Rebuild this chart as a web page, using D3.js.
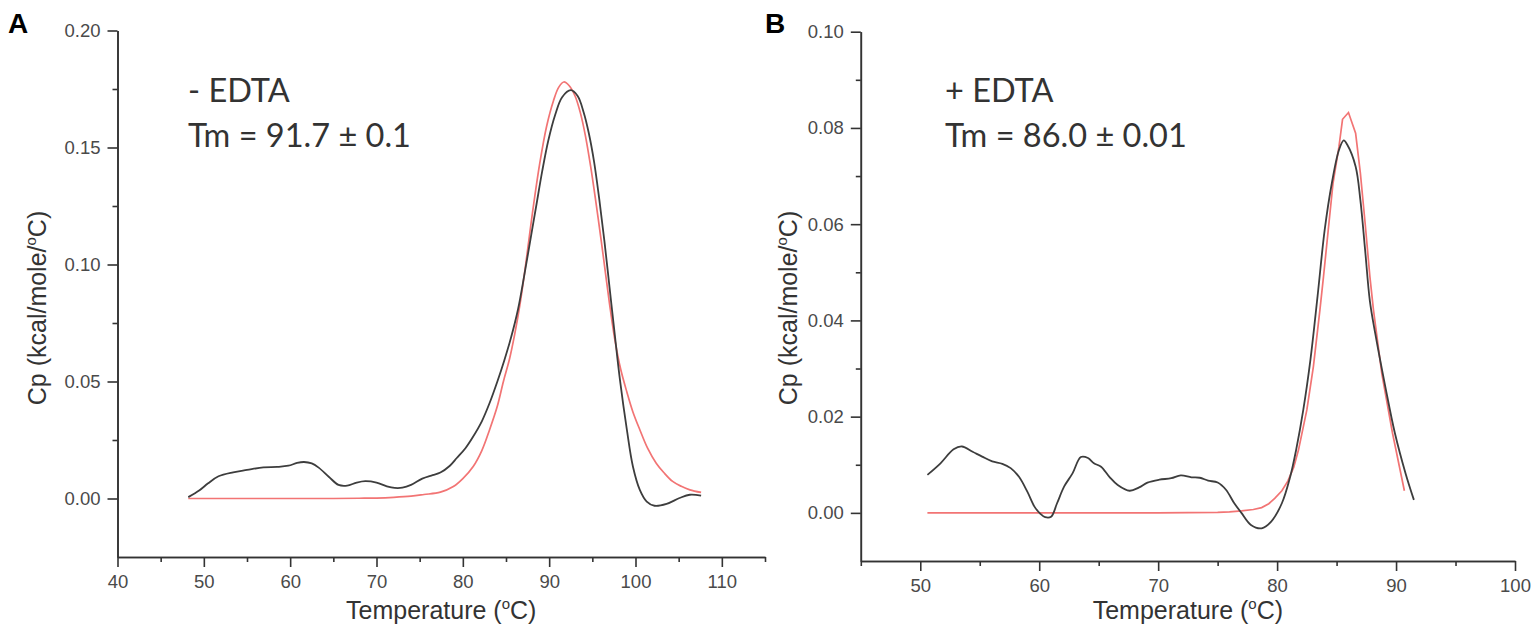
<!DOCTYPE html>
<html>
<head>
<meta charset="utf-8">
<script src="https://cdn.jsdelivr.net/npm/d3@7"></script>
<style>
  body { margin: 0; background: #fff; }
  .tick text { font-family: "Liberation Sans", Arial, sans-serif; font-size: 18.5px; fill: #4a4a4a; }
  .axis_text { font-family: "Liberation Sans", Arial, sans-serif; font-size: 25px; fill: #333; }
  .note_text { font-family: Lato, "Open Sans", sans-serif; font-size: 32.5px; fill: #333; }
  .panel_text { font-family: "Liberation Sans", Arial, sans-serif; font-size: 28px; font-weight: bold; fill: #000; }
</style>
</head>
<body>
<div class="d3_content"></div>
<script>
// panel A (- EDTA) data, temperature in C and Cp
var tempA_data = [48.2, 49.5, 50.5, 51.7, 53.4, 55.0, 56.9, 58.5, 59.8, 60.8, 61.6, 62.5, 63.3, 64.5, 65.6, 66.6, 67.7, 68.7, 70.0, 71.2,
  72.1, 73.0, 74.0, 75.3, 76.5, 77.4, 78.5, 79.3, 80.3, 81.2, 82.2, 83.1, 84.0, 84.8, 85.6, 86.4, 87.1, 87.8, 88.5, 89.2,
  89.9, 90.7, 91.5, 92.5, 93.3, 94.0, 94.6, 95.2, 95.8, 96.4, 97.0, 97.6, 98.2, 99.0, 99.7, 100.5, 101.3, 102.2, 103.6, 105.1,
  106.3, 107.6];
var cpA_data = [0.0006, 0.0035, 0.0065, 0.0095, 0.0112, 0.0122, 0.0133, 0.0135, 0.0140, 0.0152, 0.0156, 0.0150, 0.0132, 0.0092, 0.0058, 0.0055, 0.0068, 0.0074, 0.0068, 0.0052,
  0.0045, 0.0046, 0.0058, 0.0085, 0.0100, 0.0111, 0.0140, 0.0173, 0.0215, 0.0265, 0.0330, 0.0408, 0.0500, 0.0590, 0.0690, 0.0810, 0.0950, 0.1100, 0.1250, 0.1400,
  0.1530, 0.1640, 0.1715, 0.1745, 0.1720, 0.1650, 0.1560, 0.1440, 0.1280, 0.1100, 0.0900, 0.0700, 0.0507, 0.0294, 0.0137, 0.0037, -0.0013, -0.0031, -0.0023, 0.0002,
  0.0016, 0.0012];
var tempA_fit = [48.2, 55, 60, 65, 68, 70, 72, 74, 75.5, 77.4, 78.9, 80.0, 81.2, 82.2, 83.1, 84.0, 84.7, 85.4, 86.0, 86.6,
  87.1, 87.6, 88.1, 88.9, 89.7, 90.5, 91.1, 91.7, 92.3, 93.0, 93.6, 94.2, 94.8, 95.4, 96.0, 96.5, 97.0, 97.6, 98.3, 99.0,
  99.7, 100.5, 101.4, 102.4, 103.3, 104.3, 105.3, 106.3, 107.6];
var cpA_fit = [0, 0, 0, 0, 0.0001, 0.0002, 0.0005, 0.0010, 0.0017, 0.0027, 0.0051, 0.0085, 0.0137, 0.0205, 0.0294, 0.0395, 0.0500, 0.0595, 0.0700, 0.0825,
  0.0950, 0.1090, 0.1230, 0.1430, 0.1590, 0.1700, 0.1757, 0.1780, 0.1765, 0.1720, 0.1650, 0.1550, 0.1420, 0.1270, 0.1110, 0.0970, 0.0830, 0.0680, 0.0550, 0.0455,
  0.0370, 0.0294, 0.0215, 0.0151, 0.0110, 0.0073, 0.0052, 0.0037, 0.0026];

// panel B (+ EDTA) data
var tempB_data = [50.6, 51.7, 52.8, 53.5, 54.4, 55.2, 56.05, 56.9, 57.6, 58.3, 59.0, 59.6, 60.1, 60.5, 61.0, 61.5, 62.1, 62.8, 63.5, 64.1,
  64.6, 65.2, 65.9, 66.6, 67.6, 68.4, 69.1, 70.1, 71.1, 71.9, 72.8, 73.5, 74.2, 75.0, 75.7, 76.4, 77.0, 77.8, 78.7, 79.5,
  80.4, 81.1, 81.6, 82.2, 82.8, 83.4, 84.0, 84.6, 85.2, 85.6, 85.9, 86.6, 87.0, 87.4, 87.8, 88.25, 89.1, 89.9, 90.8, 91.5];
var cpB_data = [0.0079, 0.0103, 0.0132, 0.0138, 0.0127, 0.0117, 0.0107, 0.0102, 0.0093, 0.0075, 0.0044, 0.0013, -0.0002, -0.0009, -0.0008, 0.0020, 0.0055, 0.0082, 0.0116, 0.0114,
  0.0103, 0.0096, 0.0075, 0.0058, 0.0046, 0.0053, 0.0063, 0.0069, 0.0072, 0.0078, 0.0074, 0.0073, 0.0067, 0.0063, 0.0048, 0.0020, 0.0000, -0.0025, -0.0032, -0.0018,
  0.0020, 0.0075, 0.0131, 0.0214, 0.0318, 0.0450, 0.0588, 0.0685, 0.0754, 0.0774, 0.0765, 0.0720, 0.0650, 0.0546, 0.0440, 0.0373, 0.0262, 0.0166, 0.0082, 0.0027];
var tempB_fit = [50.6, 60, 70, 75, 76.0, 77.0, 78.0, 78.7, 79.3, 79.8, 80.4, 80.9, 81.4, 81.8, 82.5, 83.05, 83.6, 83.9, 84.3, 84.7,
  85.2, 85.5, 86.0, 86.6, 87.0, 87.4, 87.8, 88.1, 88.8, 89.7, 90.7];
var cpB_fit = [0, 0, 0, 0.0001, 0.0002, 0.0004, 0.0007, 0.0011, 0.0019, 0.0030, 0.0046, 0.0066, 0.0095, 0.0131, 0.0214, 0.0304, 0.0422, 0.0491, 0.0588, 0.0685,
  0.0761, 0.0818, 0.0832, 0.0789, 0.0706, 0.0602, 0.0491, 0.0422, 0.0290, 0.0166, 0.0046];

// ticks
var xTicksA = [40, 50, 60, 70, 80, 90, 100, 110];
var xMinorA = [45, 55, 65, 75, 85, 95, 105, 115];
var yTicksA = [0, 0.05, 0.10, 0.15, 0.20];
var yMinorA = [0.025, 0.075, 0.125, 0.175];
var xTicksB = [50, 60, 70, 80, 90, 100];
var xMinorB = [45, 55, 65, 75, 85, 95];
var yTicksB = [0, 0.02, 0.04, 0.06, 0.08, 0.10];
var yMinorB = [0.01, 0.03, 0.05, 0.07, 0.09];

var svg = d3.select(".d3_content").append("svg")
  .attr("width", 1535)
  .attr("height", 637);

function zip(xs, ys) {
  return xs.map((x, i) => ({x: x, y: ys[i]}));
}

function drawPanel(p) {
  var x = d3.scaleLinear().domain(p.xdomain).range(p.xrange);
  var y = d3.scaleLinear().domain(p.ydomain).range(p.yrange);
  var g = svg.append("g");

  // minor ticks first, major axis on top
  g.append("g")
    .attr("transform", `translate(0, ${p.yrange[0]})`)
    .call(d3.axisBottom(x).tickValues(p.xminor).tickSize(5).tickSizeOuter(0).tickFormat(""));
  g.append("g")
    .attr("transform", `translate(${p.xrange[0]}, 0)`)
    .call(d3.axisLeft(y).tickValues(p.yminor).tickSize(5).tickSizeOuter(0).tickFormat(""));

  g.append("g")
    .attr("transform", `translate(0, ${p.yrange[0]})`)
    .call(d3.axisBottom(x).tickValues(p.xticks).tickSize(10).tickSizeOuter(0).tickPadding(8).tickFormat(d3.format("d")));
  g.append("g")
    .attr("transform", `translate(${p.xrange[0]}, 0)`)
    .call(d3.axisLeft(y).tickValues(p.yticks).tickSize(10).tickSizeOuter(0).tickPadding(7).tickFormat(d3.format(".2f")));

  g.selectAll(".domain, .tick line").attr("stroke", "#333").attr("stroke-width", 1.6);

  var line = d3.line().x(d => x(d.x)).y(d => y(d.y));

  g.append("path")
    .datum(zip(p.fitT, p.fitCp))
    .attr("fill", "none")
    .attr("stroke", "#f27474")
    .attr("stroke-width", 1.7)
    .attr("d", line.curve(p.fitCurve));

  g.append("path")
    .datum(zip(p.dataT, p.dataCp))
    .attr("fill", "none")
    .attr("stroke", "#3d3d3d")
    .attr("stroke-width", 1.8)
    .attr("d", line.curve(d3.curveCatmullRom));

  // x axis label
  var xl = g.append("text")
    .attr("x", (p.xrange[0] + p.xrange[1]) / 2)
    .attr("y", 619)
    .attr("text-anchor", "middle")
    .attr("class", "axis_text");
  xl.append("tspan").text("Temperature (");
  xl.append("tspan").text("o").style("font-size", "15px").attr("dy", -10);
  xl.append("tspan").text("C)").attr("dy", 10);

  // y axis label (rotated)
  var yl = g.append("text")
    .attr("x", -308)
    .attr("y", p.ylabelX)
    .attr("transform", "rotate(-90)")
    .attr("text-anchor", "middle")
    .attr("class", "axis_text");
  yl.append("tspan").text("Cp (kcal/mole/");
  yl.append("tspan").text("o").style("font-size", "15px").attr("dy", -10);
  yl.append("tspan").text("C)").attr("dy", 10);

  g.append("text").text(p.note1).attr("x", p.noteX).attr("y", 102).attr("class", "note_text");
  g.append("text").text(p.note2).attr("x", p.noteX).attr("y", 147).attr("class", "note_text");

  g.append("text").text(p.panel).attr("x", p.panelX).attr("y", 33).attr("class", "panel_text");
}

drawPanel({
  panel: "A", panelX: 8,
  xdomain: [40, 115], xrange: [117.5, 765],
  ydomain: [-0.025, 0.20], yrange: [557, 30.5],
  xticks: xTicksA, xminor: xMinorA, yticks: yTicksA, yminor: yMinorA,
  dataT: tempA_data, dataCp: cpA_data, fitT: tempA_fit, fitCp: cpA_fit,
  fitCurve: d3.curveCatmullRom,
  ylabelX: 46,
  note1: "- EDTA", note2: "Tm = 91.7 \u00B1 0.1", noteX: 188,
});

drawPanel({
  panel: "B", panelX: 765,
  xdomain: [45, 100], xrange: [860.8, 1515],
  ydomain: [-0.01, 0.10], yrange: [561, 31.7],
  xticks: xTicksB, xminor: xMinorB, yticks: yTicksB, yminor: yMinorB,
  dataT: tempB_data, dataCp: cpB_data, fitT: tempB_fit, fitCp: cpB_fit,
  fitCurve: d3.curveLinear,
  ylabelX: 797,
  note1: "+ EDTA", note2: "Tm = 86.0 \u00B1 0.01", noteX: 945,
});
</script>
</body>
</html>
